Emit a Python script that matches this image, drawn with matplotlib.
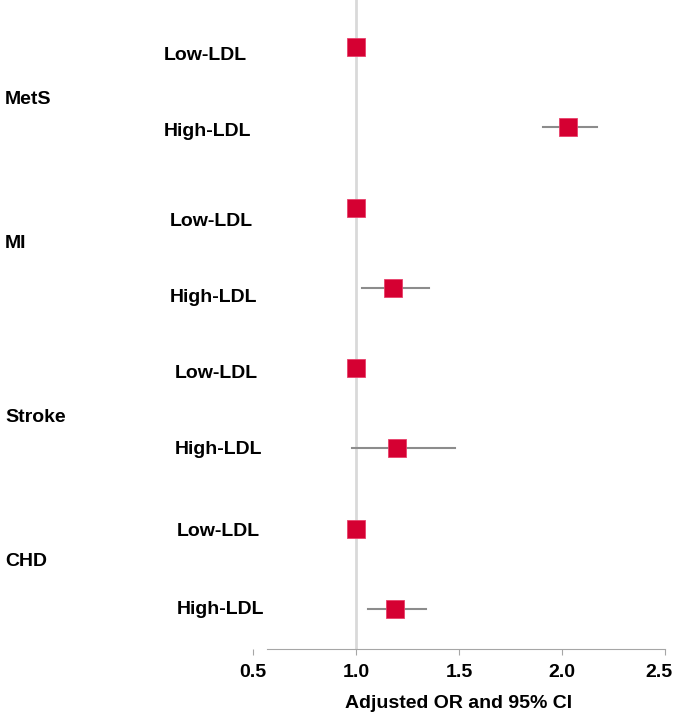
import matplotlib.pyplot as plt
from matplotlib.transforms import ScaledTranslation

plt.rcParams["font.family"] = ["Liberation Sans", "DejaVu Sans"]
plt.rcParams["font.weight"] = "bold"

grupos = ["MetS", "MI", "Stroke", "CHD"]
subgrupos = ["Low-LDL", "High-LDL"]
or_valores = [1.00, 2.03, 1.00, 1.18, 1.00, 1.20, 1.00, 1.19]
ci_bajo = [None, 1.91, None, 1.03, None, 0.98, None, 1.06]
ci_alto = [None, 2.17, None, 1.355, None, 1.48, None, 1.34]
xticks = [0.5, 1.0, 1.5, 2.0, 2.5]

W, H = 674, 724
fig = plt.figure(figsize=(W / 100, H / 100), dpi=100)
ax = fig.add_axes([253 / W, 1 - 649 / H, (665 - 253) / W, 649 / H])

pos = list(range(len(or_valores)))
ax.axvline(1.0, color="#d9d9d9", linewidth=2, zorder=0)

for i, v in enumerate(or_valores):
    if ci_bajo[i] is not None:
        ax.plot([ci_bajo[i], ci_alto[i]], [pos[i], pos[i]], color="#8c8c8c",
                linewidth=1.5, zorder=1)
    ax.plot(v, pos[i], marker="s", markersize=12.5, color="#d50032",
            markeredgecolor="#e8406a", markeredgewidth=0.6, zorder=2)

ax.set_xlim(0.5, 2.5)
ax.set_ylim(7.5, -0.585)
ax.set_xticks(xticks)
ax.set_xticklabels([f"{t:.1f}" for t in xticks], fontsize=14, fontweight="bold")
ax.set_yticks([])
for s in ["top", "right", "left"]:
    ax.spines[s].set_visible(False)
ax.spines["bottom"].set_color("#a6a6a6")
ax.spines["bottom"].set_bounds(0.57, 2.5)
ax.tick_params(axis="x", color="#a6a6a6", length=4, pad=7)
ax.set_xlabel("Adjusted OR and 95% CI", fontsize=14, fontweight="bold", labelpad=10)

# el ultimo rotulo se corre un poco para que no quede cortado
ultimo = ax.get_xticklabels()[-1]
ultimo.set_horizontalalignment("right")
ultimo.set_transform(ultimo.get_transform() + ScaledTranslation(7 / 100, 0, fig.dpi_scale_trans))

# etiquetas de grupo y subgrupo (posiciones en pixeles)
grupo_y = [100, 244, 418, 562]
for g, y in zip(grupos, grupo_y):
    fig.text(5 / W, 1 - y / H, g, fontsize=14, fontweight="bold", va="center")

sub_x = [164, 164, 170, 170, 175, 175, 177, 177]
sub_y = [55, 131, 222, 298, 373, 449, 531, 609]
for i in range(len(or_valores)):
    fig.text(sub_x[i] / W, 1 - sub_y[i] / H, subgrupos[i % 2], fontsize=14,
             fontweight="bold", va="center")

plt.savefig("out.png", dpi=100)
